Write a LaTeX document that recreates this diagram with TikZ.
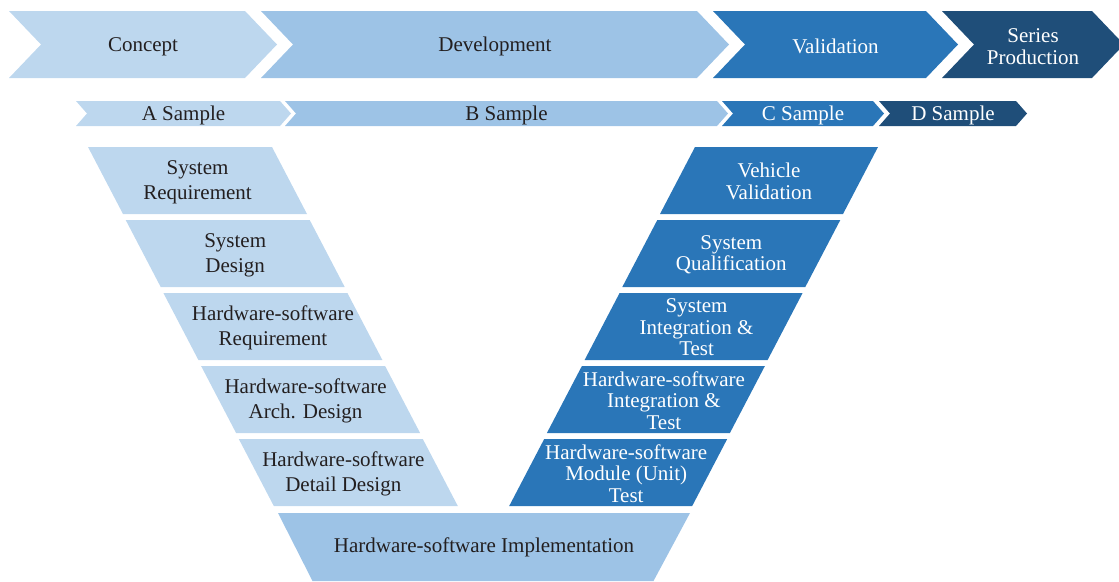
\documentclass[tikz,border=0pt]{standalone}
\usepackage{fontspec}
\setmainfont{Liberation Serif}

\definecolor{concept}{HTML}{BDD7EE}
\definecolor{develop}{HTML}{9DC3E6}
\definecolor{valid}{HTML}{2A76B8}
\definecolor{series}{HTML}{1F4E79}
\definecolor{ink}{HTML}{231F20}

\tikzset{
  label text/.style={font=\fontsize{21}{25}\selectfont, align=center, inner sep=0pt},
  spec text/.style={label text, text=ink},
  test text/.style={label text, text=white, font=\fontsize{21}{21.5}\selectfont}
}

\begin{document}
\begin{tikzpicture}[x=1pt, y=-1pt]
\clip (0,0) rectangle (1119,581);

% phases
\foreach \L/\R/\col/\tc/\name/\txt in {9/277/concept/ink/concept/Concept,
    261/729/develop/ink/devel/Development,
    713/958/valid/white/valid/Validation,
    942/1124/series/white/series/{Series\\[-3.5pt]Production}}
{
    \fill[\col] (\L,11) -- (\R-32,11) -- (\R,44.5) -- (\R-32,78) -- (\L,78) -- (\L+32,44.5) -- cycle;
    \node[label text, text=\tc] (\name) at ({(\L+\R)/2},46.5) {\txt};
}

% samples
\foreach \L/\R/\col/\tc/\name/\txt in {76/291/concept/ink/a/A Sample,
    285/728/develop/ink/b/B Sample,
    722/884/valid/white/c/C Sample,
    879/1027/series/white/d/D Sample}
{
    \fill[\col] (\L,101) -- (\R-11,101) -- (\R,113.5) -- (\R-11,126) -- (\L,126) -- (\L+11,113.5) -- cycle;
    \node[label text, text=\tc] (sample-\name) at ({(\L+\R)/2},115) {\txt};
}

% left leg of the V
\foreach \txt/\dx [count=\i from 0] in {{System\\Requirement}/0, {System\\Design}/0,
    {Hardware-software\\Requirement}/0, {Hardware-software\\Arch. Design}/-5,
    {Hardware-software\\Detail Design}/-5}
{
    \pgfmathsetmacro{\yt}{147+73*\i}
    \pgfmathsetmacro{\xl}{88+37.7*\i}
    \fill[concept] (\xl,\yt) -- ++(184,0) -- ++(35,67) -- ++(-184,0) -- cycle;
    \node[spec text] (spec-\i) at (\xl+109.5+\dx,\yt+35) {\txt};
}

% right leg of the V
\foreach \txt/\dx [count=\i from 0] in {{Vehicle\\Validation}/0, {System\\Qualification}/0,
    {System\\Integration \&\\Test}/3, {Hardware-software\\Integration \&\\Test}/8,
    {Hardware-software\\Module (Unit)\\Test}/8}
{
    \pgfmathsetmacro{\yt}{147+73*\i}
    \pgfmathsetmacro{\xr}{878-37.7*\i}
    \fill[valid] (\xr,\yt) -- ++(-183,0) -- ++(-35,67) -- ++(183,0) -- cycle;
    \node[test text] (test-\i) at (\xr-109+\dx,\yt+34.5) {\txt};
}

% bottom of the V
\fill[develop] (278,513) -- (690,513) -- (653.5,581) -- (312.5,581) -- cycle;
\node[spec text] (impl) at (484,547.5) {Hardware-software Implementation};

\end{tikzpicture}
\end{document}
